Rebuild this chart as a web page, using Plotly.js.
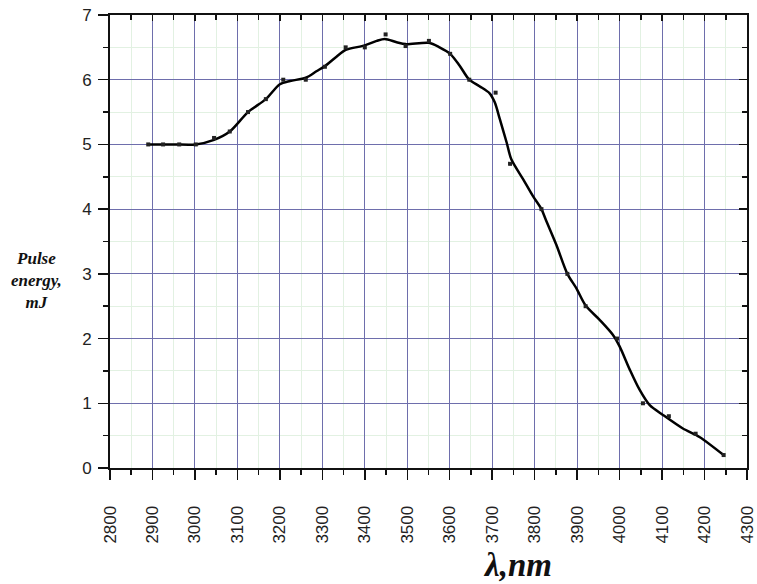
<!DOCTYPE html>
<html>
<head>
<meta charset="utf-8">
<script src="https://cdn.plot.ly/plotly-3.0.1.min.js"></script>
<style>html,body{margin:0;padding:0;background:#fff;}#chart{width:757px;height:584px;}</style>
</head>
<body>
<div id="chart"></div>
<script>
// Measured data points (wavelength, nm ; pulse energy, mJ)
const pointX = [2890, 2925, 2963, 3002, 3045, 3082, 3125, 3167, 3208, 3261, 3306, 3355, 3400, 3449, 3496, 3551, 3601, 3646, 3708, 3742, 3816, 3877, 3920, 3994, 4055, 4116, 4179, 4245];
const pointY = [5.0, 5.0, 5.0, 5.0, 5.1, 5.2, 5.5, 5.7, 6.0, 6.0, 6.2, 6.5, 6.5, 6.7, 6.52, 6.6, 6.4, 6.0, 5.8, 4.7, 4.0, 3.0, 2.5, 2.0, 1.0, 0.8, 0.53, 0.2];

// Smoothed curve
const curveX = [2890, 2950, 3002, 3045, 3082, 3125, 3167, 3200, 3224, 3261, 3286, 3306, 3334, 3355, 3400, 3428, 3447, 3475, 3496, 3551, 3576, 3601, 3623, 3646, 3670, 3694, 3706, 3718, 3734, 3745, 3773, 3796, 3816, 3826, 3851, 3877, 3898, 3920, 3953, 3984, 4000, 4024, 4047, 4071, 4102, 4149, 4188, 4245];
const curveY = [5.0, 5.0, 5.0, 5.07, 5.2, 5.5, 5.7, 5.93, 5.98, 6.03, 6.13, 6.21, 6.36, 6.46, 6.53, 6.6, 6.63, 6.58, 6.55, 6.57, 6.5, 6.4, 6.22, 6.0, 5.9, 5.79, 5.65, 5.39, 5.03, 4.77, 4.46, 4.2, 4.0, 3.84, 3.45, 3.0, 2.78, 2.51, 2.29, 2.06, 1.88, 1.52, 1.21, 0.97, 0.82, 0.61, 0.48, 0.2];

const xTickVals = [2800, 2900, 3000, 3100, 3200, 3300, 3400, 3500, 3600, 3700, 3800, 3900, 4000, 4100, 4200, 4300];
const yTickVals = [0, 1, 2, 3, 4, 5, 6, 7];

const yTitleLines = ['Pulse', 'energy,', 'mJ'];
const xTitle = 'λ,nm';

const axisColor = '#111';
const majorGrid = '#6e6eac';
const minorGrid = '#e2f1e2';
const tickFont = {family: 'Liberation Sans, Arial, sans-serif', size: 17, color: '#222'};
const serif = 'Liberation Serif, Times New Roman, serif';

const traces = [
  {
    x: curveX, y: curveY, type: 'scatter', mode: 'lines',
    line: {color: '#000', width: 2.5, shape: 'spline', smoothing: 0.8},
    hoverinfo: 'skip', showlegend: false, xaxis: 'x', yaxis: 'y'
  },
  {
    x: pointX, y: pointY, type: 'scatter', mode: 'markers',
    marker: {symbol: 'square', size: 4, color: '#222'},
    showlegend: false, xaxis: 'x2', yaxis: 'y2'
  }
];

const annotations = [
  {
    text: '<b><i>' + yTitleLines.join('<br>') + '</i></b>', xref: 'paper', yref: 'paper', x: -0.116, y: 0.413,
    xanchor: 'center', yanchor: 'middle', showarrow: false, align: 'center',
    font: {family: serif, size: 17, color: '#111'}
  },
  {
    text: '<b><i>' + xTitle + '</i></b>', xref: 'paper', yref: 'paper', x: 0.639, y: -0.214,
    xanchor: 'center', yanchor: 'middle', showarrow: false,
    font: {family: serif, size: 33, color: '#111'}
  }
];

const layout = {
  width: 757, height: 584,
  margin: {l: 110, r: 10, t: 15, b: 116},
  paper_bgcolor: '#fff', plot_bgcolor: '#fff',
  showlegend: false,
  xaxis: {
    range: [2800, 4300], tickmode: 'array', tickvals: xTickVals,
    ticks: 'outside', ticklen: 10, tickwidth: 1.5, tickcolor: axisColor,
    showline: true, linewidth: 2, linecolor: axisColor, mirror: true,
    showgrid: true, gridcolor: majorGrid, gridwidth: 1, zeroline: false,
    tickangle: -90, tickfont: tickFont, ticklabelstandoff: 19,
    minor: {dtick: 50, tick0: 2800, ticks: 'outside', ticklen: 5, tickwidth: 1.5, tickcolor: axisColor,
            showgrid: true, gridcolor: minorGrid, gridwidth: 1}
  },
  yaxis: {
    range: [0, 7], tickmode: 'array', tickvals: yTickVals,
    ticks: 'outside', ticklen: 10, tickwidth: 1.5, tickcolor: axisColor,
    showline: true, linewidth: 2, linecolor: axisColor, mirror: true,
    showgrid: true, gridcolor: majorGrid, gridwidth: 1, zeroline: false,
    tickfont: tickFont, ticklabelstandoff: 3,
    minor: {dtick: 0.5, tick0: 0, ticks: 'outside', ticklen: 5, tickwidth: 1.5, tickcolor: axisColor,
            showgrid: true, gridcolor: minorGrid, gridwidth: 1}
  },
  xaxis2: {
    overlaying: 'x', side: 'top', anchor: 'y2', range: [2800, 4300],
    tickmode: 'array', tickvals: xTickVals,
    ticks: 'inside', ticklen: 6, tickwidth: 1.5, tickcolor: axisColor,
    showticklabels: false, showgrid: false, zeroline: false, showline: false,
    minor: {dtick: 50, tick0: 2800, ticks: 'inside', ticklen: 5, tickwidth: 1.5, tickcolor: axisColor, showgrid: false}
  },
  yaxis2: {
    overlaying: 'y', side: 'right', anchor: 'x2', range: [0, 7],
    tickmode: 'array', tickvals: yTickVals,
    ticks: 'inside', ticklen: 8, tickwidth: 1.5, tickcolor: axisColor,
    showticklabels: false, showgrid: false, zeroline: false, showline: false,
    minor: {dtick: 0.5, tick0: 0, ticks: 'inside', ticklen: 5, tickwidth: 1.5, tickcolor: axisColor, showgrid: false}
  },
  annotations: annotations
};

Plotly.newPlot('chart', traces, layout, {displayModeBar: false, staticPlot: true});
</script>
</body>
</html>
